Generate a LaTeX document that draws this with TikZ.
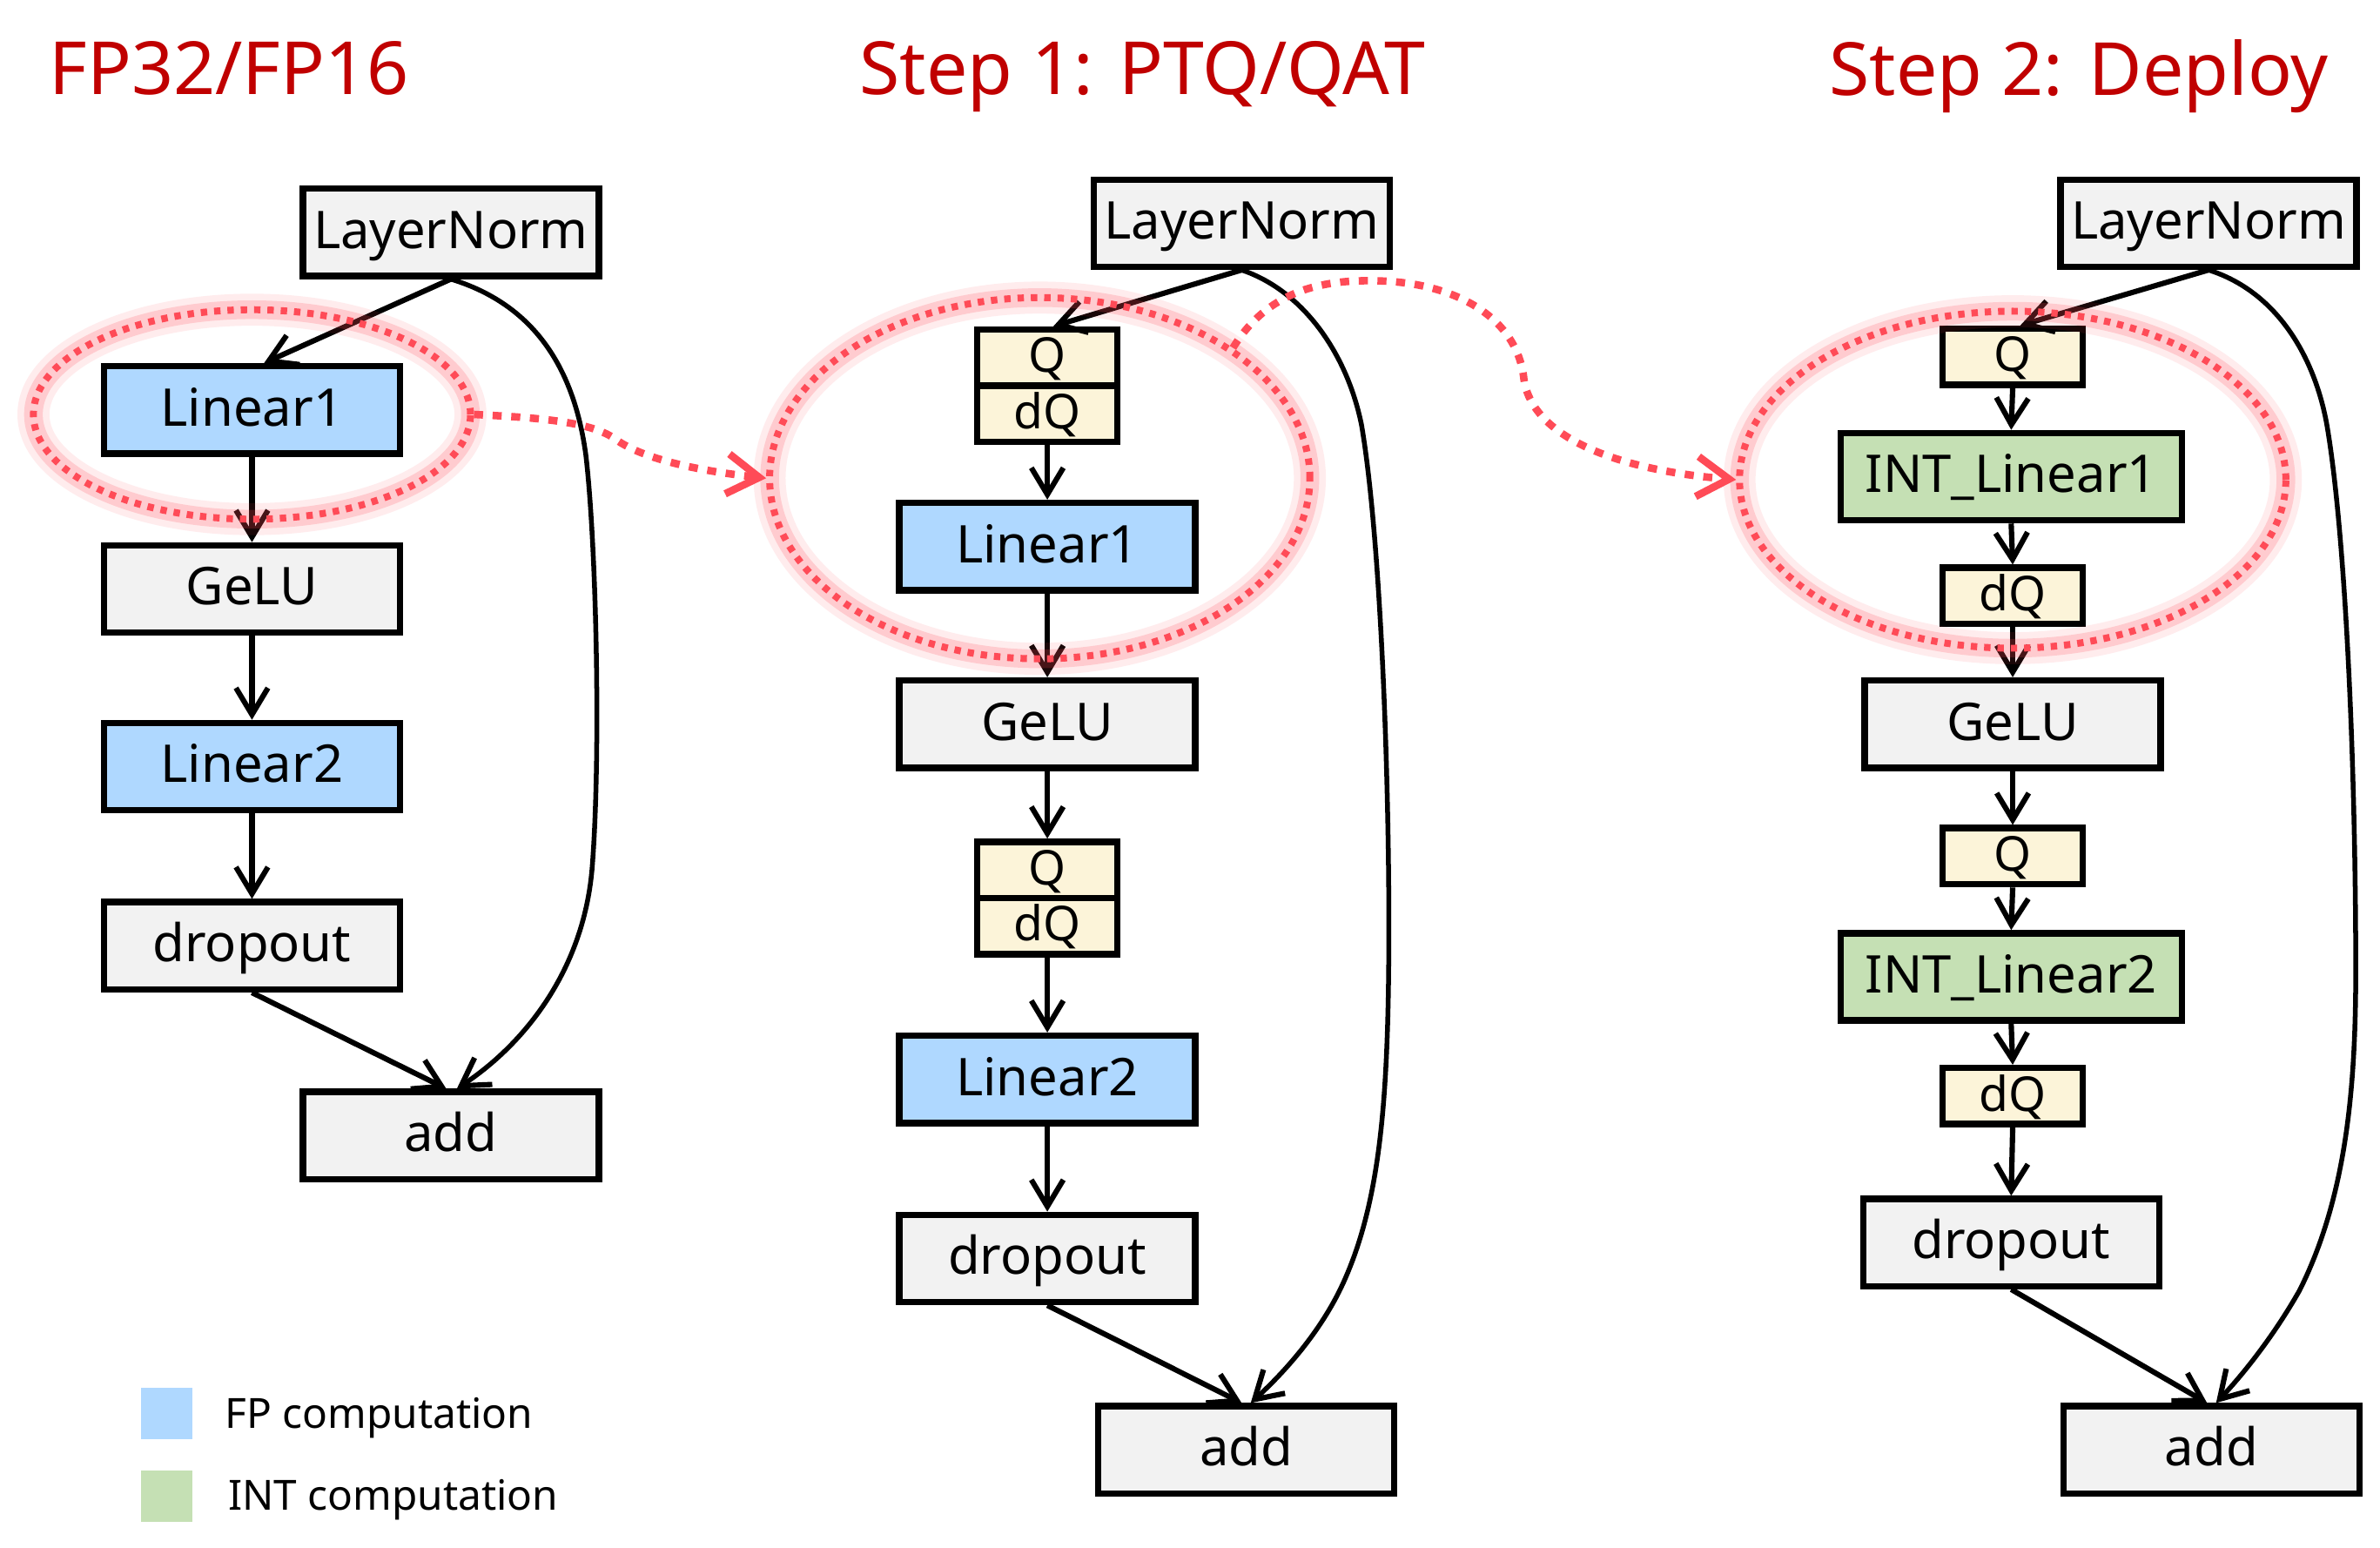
\documentclass[tikz,border=0pt]{standalone}
\usepackage{fontspec}
\setmainfont{Noto Sans}
\usetikzlibrary{arrows.meta,shapes.geometric}
\definecolor{titlered}{HTML}{C00000}
\definecolor{fpblue}{HTML}{AFD8FF}
\definecolor{intgreen}{HTML}{C5E0B4}
\definecolor{qyellow}{HTML}{FCF4D9}
\definecolor{boxgray}{HTML}{F2F2F2}
\definecolor{glowred}{HTML}{FF4B57}
\begin{document}
\begin{tikzpicture}[x=0.02cm,y=-0.02cm,
  basebox/.style={draw=black,line width=2.4pt,inner sep=0pt},
  opbox/.style={basebox,fill=boxgray,minimum width=3.9cm,minimum height=1.15cm,
    font=\fontsize{19.5}{22}\selectfont,text height=14pt,text depth=2pt},
  fpbox/.style={opbox,fill=fpblue},
  intbox/.style={opbox,fill=intgreen,minimum width=4.5cm},
  qbox/.style={basebox,fill=qyellow,minimum width=1.85cm,minimum height=0.74cm,
    font=\fontsize{18}{20}\selectfont,text height=13pt,text depth=1.8pt},
  titletext/.style={anchor=base west,text=titlered,font=\fontsize{27.5}{31}\selectfont,inner sep=0pt},
  legtext/.style={anchor=base west,font=\fontsize{15.6}{18}\selectfont,inner sep=0pt},
  legsq/.style={minimum size=0.68cm,inner sep=0pt},
  arr/.style={line width=2pt,-{Straight Barb[length=10pt,width=12pt]}},
  skip/.style={line width=1.8pt,-{Straight Barb[length=10pt,width=12pt,line width=2pt]}},
  halo/.style={ellipse,inner sep=0pt,draw=glowred,line width=2.6pt,dash pattern=on 2.4pt off 2.6pt,
    preaction={draw=glowred,solid,line width=12pt,opacity=0.1},
    preaction={draw=glowred,solid,line width=7pt,opacity=0.2}},
  redarr/.style={draw=glowred,line width=2.8pt,dash pattern=on 3.4pt off 3.6pt,
    -{Straight Barb[length=12pt,width=15pt,line width=2.8pt]}}
]
\fill[white] (0,0) rectangle (1568,1019.7);
\useasboundingbox (0,0) rectangle (1568,1019.7);

% titles
\node[titletext] (T1) at (32,62) {FP32/FP16};
\node[titletext] (T2) at (566,62) {Step 1: PTQ/QAT};
\node[titletext] (T3) at (1205,63) {Step 2: Deploy};

% column 1
\node[opbox] (LN1) at (297,153) {LayerNorm};
\node[fpbox] (L1a) at (166,270) {Linear1};
\node[opbox] (G1) at (166,388) {GeLU};
\node[fpbox] (L2a) at (166,505) {Linear2};
\node[opbox] (D1) at (166,623) {dropout};
\node[opbox] (A1) at (297,748) {add};

\draw[arr] (LN1.south) -- ([xshift=0.16cm]L1a.north);
\draw[arr] (L1a.south) -- (G1.north);
\draw[arr] (G1.south) -- (L2a.north);
\draw[arr] (L2a.south) -- (D1.north);
\draw[arr] (D1.south) -- ([xshift=-0.06cm]A1.north);
\draw[skip] (LN1.south) .. controls (350,200) and (378,240) .. (386,300)
  .. controls (393,360) and (396,500) .. (390,573)
  .. controls (384,640) and (345,688) .. ([xshift=0.08cm]A1.north);

% column 2
\node[opbox] (LN2) at (818,147) {LayerNorm};
\node[qbox] (Q2a) at (690,235.5) {Q};
\node[qbox] (dQ2a) at (690,272.5) {dQ};
\node[fpbox] (L1b) at (690,360) {Linear1};
\node[opbox] (G2) at (690,477) {GeLU};
\node[qbox] (Q2b) at (690,573) {Q};
\node[qbox] (dQ2b) at (690,610) {dQ};
\node[fpbox] (L2b) at (690,711) {Linear2};
\node[opbox] (D2) at (690,829) {dropout};
\node[opbox] (A2) at (821,955) {add};

\draw[arr] (LN2.south) -- ([xshift=0.08cm]Q2a.north);
\draw[arr] (dQ2a.south) -- (L1b.north);
\draw[arr] (L1b.south) -- (G2.north);
\draw[arr] (G2.south) -- (Q2b.north);
\draw[arr] (dQ2b.south) -- (L2b.north);
\draw[arr] (L2b.south) -- (D2.north);
\draw[arr] (D2.south) -- ([xshift=-0.06cm]A2.north);
\draw[skip] (LN2.south) .. controls (860,192) and (888,235) .. (897,280)
  .. controls (909,350) and (915,500) .. (915,610)
  .. controls (915,720) and (910,790) .. (885,845)
  .. controls (870,878) and (845,905) .. ([xshift=0.06cm]A2.north);

% column 3
\node[opbox] (LN3) at (1455,147) {LayerNorm};
\node[qbox] (Q3a) at (1326,235) {Q};
\node[intbox] (IL1) at (1325,314) {INT\_Linear1};
\node[qbox] (dQ3a) at (1326,392.5) {dQ};
\node[opbox] (G3) at (1326,477) {GeLU};
\node[qbox] (Q3b) at (1326,564) {Q};
\node[intbox] (IL2) at (1325,643.5) {INT\_Linear2};
\node[qbox] (dQ3b) at (1326,722) {dQ};
\node[opbox] (D3) at (1325,818.5) {dropout};
\node[opbox] (A3) at (1457,955) {add};

\draw[arr] (LN3.south) -- ([xshift=0.1cm]Q3a.north);
\draw[arr] (Q3a.south) -- (IL1.north);
\draw[arr] (IL1.south) -- (dQ3a.north);
\draw[arr] (dQ3a.south) -- (G3.north);
\draw[arr] (G3.south) -- (Q3b.north);
\draw[arr] (Q3b.south) -- (IL2.north);
\draw[arr] (IL2.south) -- (dQ3b.north);
\draw[arr] (dQ3b.south) -- (D3.north);
\draw[arr] (D3.south) -- ([xshift=-0.06cm]A3.north);
\draw[skip] (LN3.south) .. controls (1500,192) and (1525,235) .. (1533,280)
  .. controls (1545,350) and (1552,500) .. (1552,640)
  .. controls (1552,720) and (1545,790) .. (1515,850)
  .. controls (1498,880) and (1478,905) .. ([xshift=0.06cm]A3.north);

% highlighted regions
\node[halo,minimum width=5.76cm,minimum height=2.76cm] (E1) at (166,273) {};
\node[halo,minimum width=7.12cm,minimum height=4.76cm] (E2) at (685,315) {};
\node[halo,minimum width=7.2cm,minimum height=4.44cm] (E3) at (1326,316) {};

\draw[redarr] (E1.east) .. controls (350,275) and (388,277) .. (405,289)
  .. controls (420,300) and (450,309) .. (E2.west);
\draw[redarr] (E2.34) .. controls (835,192) and (870,184) .. (907,185)
  .. controls (960,186) and (1000,210) .. (1004,250)
  .. controls (1010,290) and (1070,310) .. (E3.west);

% legend
\node[legsq,fill=fpblue] (LgA) at (110,931) {};
\node[legtext] (LgAt) at (148,941) {FP computation};
\node[legsq,fill=intgreen] (LgB) at (110,985.5) {};
\node[legtext] (LgBt) at (150,995) {INT computation};
\end{tikzpicture}
\end{document}
